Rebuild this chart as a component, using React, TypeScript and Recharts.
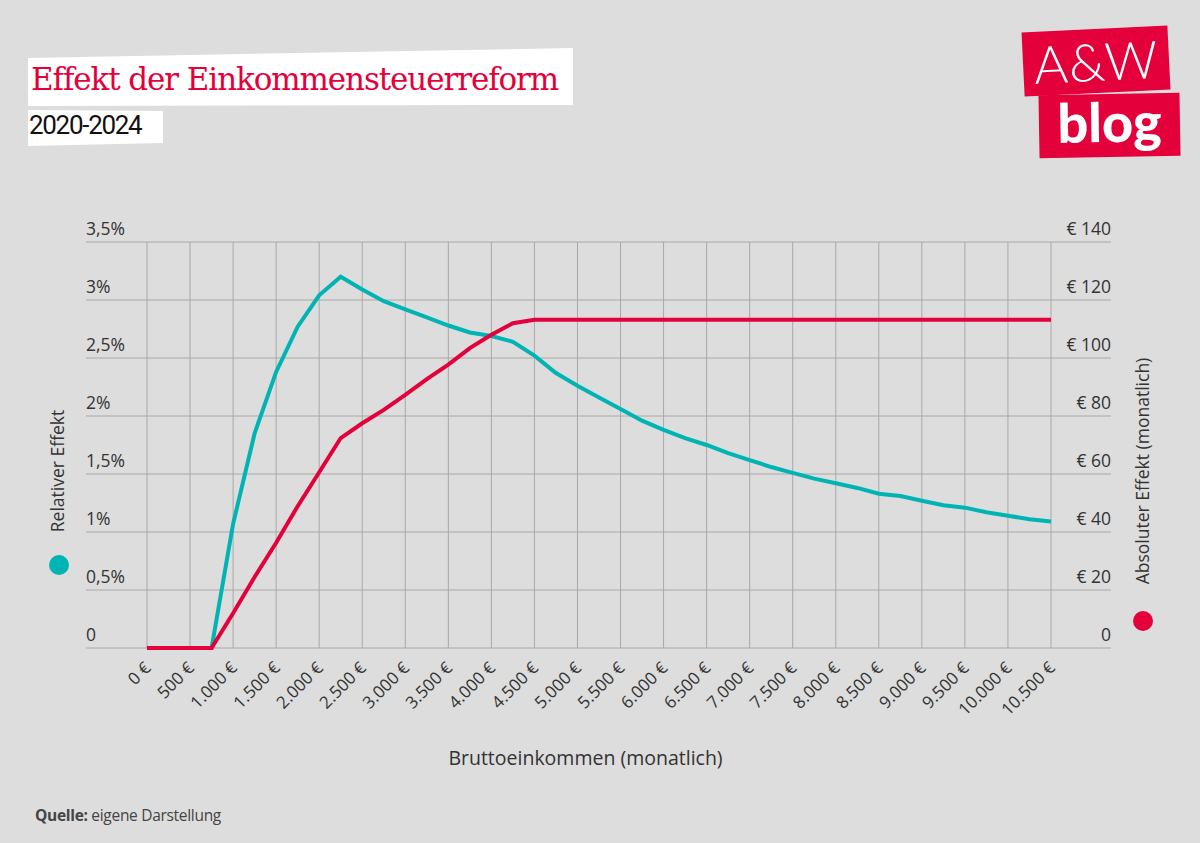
import React from "react";
import { LineChart, Line, XAxis, YAxis, CartesianGrid, Label, ReferenceLine } from "recharts";

const incomes = [
  0, 250, 500, 750, 1000, 1250, 1500, 1750, 2000, 2250, 2500, 2750, 3000, 3250, 3500, 3750, 4000,
  4250, 4500, 4750, 5000, 5250, 5500, 5750, 6000, 6250, 6500, 6750, 7000, 7250, 7500, 7750, 8000,
  8250, 8500, 8750, 9000, 9250, 9500, 9750, 10000, 10250, 10500,
];

const relativeEffect = [
  0, 0, 0, 0, 1.07, 1.85, 2.38, 2.77, 3.04, 3.2, 3.09, 2.99, 2.92, 2.85, 2.78, 2.72, 2.69, 2.64,
  2.52, 2.37, 2.26, 2.16, 2.06, 1.96, 1.88, 1.81, 1.75, 1.68, 1.62, 1.56, 1.51, 1.46, 1.42, 1.38,
  1.33, 1.31, 1.27, 1.23, 1.21, 1.17, 1.14, 1.11, 1.09,
];

const absoluteEffect = [
  0, 0, 0, 0, 12.0, 24.5, 36.3, 48.9, 60.6, 72.4, 77.5, 82.1, 87.3, 92.7, 97.7, 103.4, 108.0, 112.0,
  113.2, 113.2, 113.2, 113.2, 113.2, 113.2, 113.2, 113.2, 113.2, 113.2, 113.2, 113.2, 113.2, 113.2,
  113.2, 113.2, 113.2, 113.2, 113.2, 113.2, 113.2, 113.2, 113.2, 113.2, 113.2,
];

const xTicks = [
  0, 500, 1000, 1500, 2000, 2500, 3000, 3500, 4000, 4500, 5000, 5500, 6000, 6500, 7000, 7500, 8000,
  8500, 9000, 9500, 10000, 10500,
];
const leftTicks = [0, 0.5, 1, 1.5, 2, 2.5, 3, 3.5];
const rightTicks = [0, 20, 40, 60, 80, 100, 120, 140];

const data = incomes.map((x, i) => ({ x, rel: relativeEffect[i], abs: absoluteEffect[i] }));

const SANS = "'Open Sans', 'Noto Sans', sans-serif";
const RED = "#e4003a";
const CYAN = "#00b4b3";
const TEXT = "#333333";
const GRID = "#a8a8a8";

const euro = (v: number) => String(v).replace(/\B(?=(\d{3})+(?!\d))/g, ".") + " €";
const pct = (v: number) => (v === 0 ? "0" : String(v).replace(".", ",") + "%");
const eur = (v: number) => (v === 0 ? "0" : "€ " + v);

function XTick(props: any) {
  const { x, y, payload } = props;
  const ax = x + 5;
  const ay = y + 21;
  return (
    <text
      x={ax}
      y={ay}
      transform={`rotate(-45 ${ax} ${ay})`}
      textAnchor="end"
      fontSize={17}
      fontFamily={SANS}
      fill={TEXT}
    >
      {euro(payload.value)}
    </text>
  );
}

function LeftTick(props: any) {
  const { y, payload } = props;
  return (
    <text x={86} y={y - 7} textAnchor="start" fontSize={17.5} fontFamily={SANS} fill={TEXT}>
      {pct(payload.value)}
    </text>
  );
}

function RightTick(props: any) {
  const { y, payload } = props;
  return (
    <text x={1111} y={y - 7} textAnchor="end" fontSize={17.5} fontFamily={SANS} fill={TEXT}>
      {eur(payload.value)}
    </text>
  );
}

function LeftTitle(props: any) {
  const vb = props.viewBox || { y: 242, height: 406 };
  const cx = 57;
  const cy = vb.y + vb.height / 2 + 26;
  return (
    <g>
      <text
        x={cx}
        y={cy}
        transform={`rotate(-90 ${cx} ${cy})`}
        textAnchor="middle"
        dominantBaseline="central"
        fontSize={17.5}
        fontFamily={SANS}
        fill={TEXT}
      >
        Relativer Effekt
      </text>
      <circle cx={59} cy={vb.y + vb.height / 2 + 120} r={10} fill={CYAN} />
    </g>
  );
}

function RightTitle(props: any) {
  const vb = props.viewBox || { y: 242, height: 406 };
  const cx = 1142;
  const cy = vb.y + vb.height / 2 + 26;
  return (
    <g>
      <text
        x={cx}
        y={cy}
        transform={`rotate(-90 ${cx} ${cy})`}
        textAnchor="middle"
        dominantBaseline="central"
        fontSize={17.5}
        fontFamily={SANS}
        fill={TEXT}
      >
        Absoluter Effekt (monatlich)
      </text>
      <circle cx={1143} cy={vb.y + vb.height / 2 + 176} r={10} fill={RED} />
    </g>
  );
}

function XTitle(props: any) {
  const vb = props.viewBox || { x: 86, y: 648, width: 1025, height: 30 };
  return (
    <text
      x={vb.x + vb.width / 2 - 13}
      y={vb.y + 117}
      textAnchor="middle"
      fontSize={19.5}
      fontFamily={SANS}
      fill={TEXT}
    >
      Bruttoeinkommen (monatlich)
    </text>
  );
}

export default function App() {
  return (
    <div
      style={{
        position: "fixed",
        left: 0,
        top: 0,
        width: 1200,
        height: 843,
        background: "#dddddd",
        overflow: "hidden",
      }}
    >
      {/* Title boxes */}
      <div
        style={{
          position: "absolute",
          left: 28,
          top: 48,
          width: 545,
          height: 58,
          background: "#ffffff",
          clipPath: "polygon(0 10px, 100% 0, 100% 57px, 0 58px)",
        }}
      />
      <div
        style={{
          position: "absolute",
          left: 28,
          top: 108,
          width: 135,
          height: 38,
          background: "#ffffff",
          clipPath: "polygon(0 2px, 100% 3px, 100% 35px, 0 38px)",
        }}
      />
      <div
        style={{
          position: "absolute",
          left: 31,
          top: 59,
          fontFamily: "'DejaVu Serif', 'Liberation Serif', serif",
          fontSize: 31,
          letterSpacing: -1.1,
          color: RED,
          whiteSpace: "nowrap",
          lineHeight: "40px",
        }}
      >
        Effekt der Einkommensteuerreform
      </div>
      <div
        style={{
          position: "absolute",
          left: 29,
          top: 108,
          fontFamily: "Roboto, sans-serif",
          fontSize: 26,
          letterSpacing: -1.3,
          color: "#111111",
          whiteSpace: "nowrap",
          lineHeight: "34px",
        }}
      >
        2020-2024
      </div>

      {/* Logo */}
      <div
        style={{
          position: "absolute",
          left: 1023,
          top: 29,
          width: 146,
          height: 64,
          background: RED,
          transform: "rotate(-2.8deg)",
          color: "#ffffff",
          fontFamily: "Lato, sans-serif",
          fontWeight: 300,
          fontSize: 52,
          lineHeight: "64px",
          textAlign: "center",
          letterSpacing: 1,
        }}
      >
        A&amp;W
      </div>
      <div
        style={{
          position: "absolute",
          left: 1039,
          top: 94,
          width: 141,
          height: 63,
          background: RED,
          transform: "rotate(-1deg)",
          color: "#ffffff",
          fontFamily: "Lato, sans-serif",
          fontWeight: 900,
          fontSize: 54,
          lineHeight: "56px",
          textAlign: "center",
        }}
      >
        blog
      </div>

      <div style={{ position: "absolute", left: 0, top: 0 }}>
        <LineChart
          width={1200}
          height={843}
          data={data}
          margin={{ top: 242, right: 88, bottom: 165, left: 85 }}
        >
          <CartesianGrid yAxisId="left" stroke={GRID} strokeWidth={1} vertical={false} />
          <XAxis
            dataKey="x"
            type="number"
            domain={[-708.5, 11196.9]}
            ticks={xTicks}
            interval={0}
            axisLine={false}
            tickLine={false}
            tickSize={0}
            tickMargin={0}
            height={30}
            tick={<XTick />}
          >
            <Label content={<XTitle />} />
          </XAxis>
          <YAxis
            yAxisId="left"
            orientation="left"
            width={1}
            domain={[0, 3.5]}
            ticks={leftTicks}
            interval={0}
            axisLine={false}
            tickLine={false}
            tickSize={0}
            tickMargin={0}
            tick={<LeftTick />}
          >
            <Label content={<LeftTitle />} />
          </YAxis>
          <YAxis
            yAxisId="right"
            orientation="right"
            width={1}
            domain={[0, 140]}
            ticks={rightTicks}
            interval={0}
            axisLine={false}
            tickLine={false}
            tickSize={0}
            tickMargin={0}
            tick={<RightTick />}
          >
            <Label content={<RightTitle />} />
          </YAxis>
          {xTicks.map((t) => (
            <ReferenceLine key={t} x={t} yAxisId="left" stroke={GRID} strokeWidth={1} />
          ))}
          <Line
            yAxisId="left"
            type="linear"
            dataKey="rel"
            stroke={CYAN}
            strokeWidth={4}
            dot={false}
            activeDot={false}
            isAnimationActive={false}
          />
          <Line
            yAxisId="right"
            type="linear"
            dataKey="abs"
            stroke={RED}
            strokeWidth={4}
            dot={false}
            activeDot={false}
            isAnimationActive={false}
          />
        </LineChart>
      </div>

      {/* Footer */}
      <div
        style={{
          position: "absolute",
          left: 35,
          top: 805,
          fontFamily: SANS,
          fontSize: 15.5,
          letterSpacing: -0.3,
          color: "#444444",
          whiteSpace: "nowrap",
          lineHeight: "20px",
        }}
      >
        <b>Quelle:</b> eigene Darstellung
      </div>
    </div>
  );
}
